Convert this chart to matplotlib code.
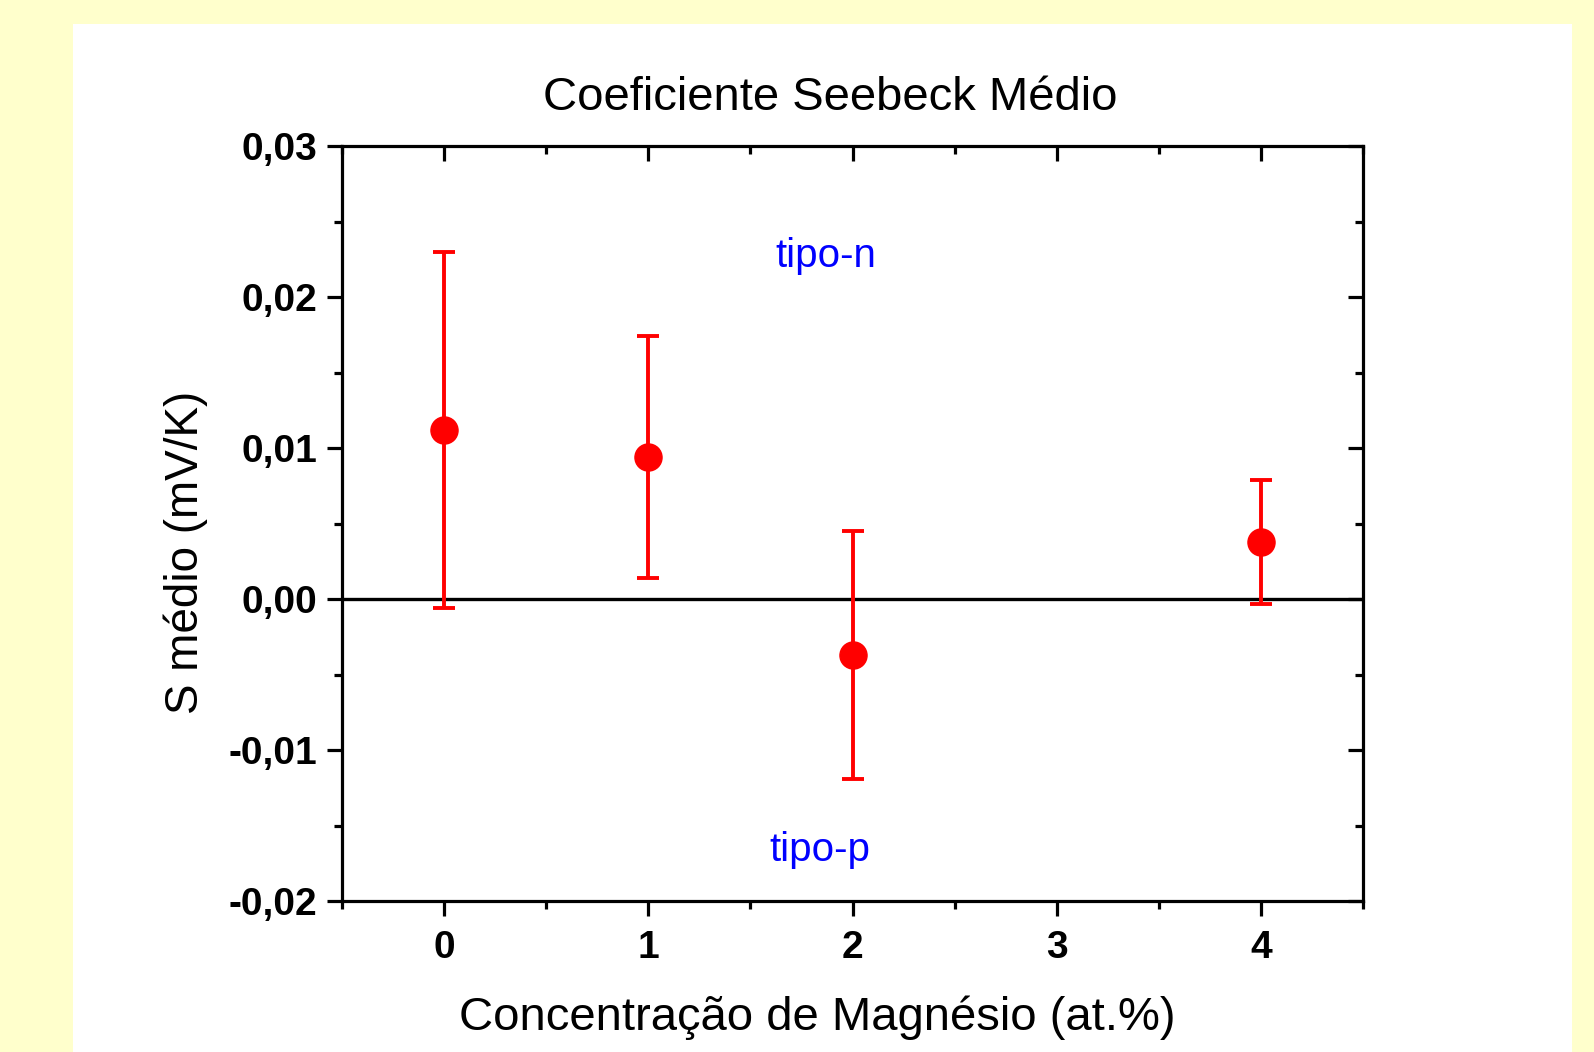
import numpy as np
import matplotlib
matplotlib.use('Agg')
import matplotlib.pyplot as plt
from matplotlib.patches import Rectangle
from matplotlib.ticker import MultipleLocator, FuncFormatter

# dados
mg_conc = [0, 1, 2, 4]
s_medio = [0.0112, 0.0094, -0.0037, 0.0038]
s_erro = [0.0118, 0.0080, 0.0082, 0.0041]

plt.rcParams['font.family'] = ['Liberation Sans', 'DejaVu Sans']

fig = plt.figure(figsize=(15.94, 10.52), dpi=100)
fig.patch.set_facecolor('#FFFFCC')
# painel branco
fig.patches.append(Rectangle((73 / 1594, 0), (1572 - 73) / 1594, 1 - 24 / 1052,
                             transform=fig.transFigure, facecolor='white',
                             edgecolor='none', zorder=-10))

ax = fig.add_axes([342 / 1594, 1 - 901 / 1052, (1363 - 342) / 1594, (901 - 146) / 1052])
ax.set_facecolor('none')

ax.axhline(0, color='black', lw=2.4, zorder=1)
ax.errorbar(mg_conc, s_medio, yerr=s_erro, fmt='o', color='#FF0000',
            markersize=19.5, elinewidth=2.8, capsize=8, capthick=2.8, zorder=3)

ax.set_xlim(-0.5, 4.5)
ax.set_ylim(-0.02, 0.03)
ax.xaxis.set_major_locator(MultipleLocator(1))
ax.xaxis.set_minor_locator(MultipleLocator(0.5))
ax.yaxis.set_major_locator(MultipleLocator(0.01))
ax.yaxis.set_minor_locator(MultipleLocator(0.005))
ax.yaxis.set_major_formatter(FuncFormatter(lambda v, p: f'{v:.2f}'.replace('.', ',').replace('-0,00', '0,00')))
ax.xaxis.set_major_formatter(FuncFormatter(lambda v, p: f'{v:.0f}'))

for s in ax.spines.values():
    s.set_linewidth(2.3)

ax.tick_params(which='both', width=2.3, labelsize=28)
ax.tick_params(which='major', length=11)
ax.tick_params(which='minor', length=6)
ax.tick_params(axis='x', which='both', top=True, direction='out', pad=10)
ax.tick_params(axis='y', which='both', right=True, direction='out', pad=7)
for lab in ax.get_xticklabels() + ax.get_yticklabels():
    lab.set_fontweight('bold')

# ticks de cima e da direita para dentro
for t in ax.xaxis.get_major_ticks() + ax.xaxis.get_minor_ticks():
    t.tick2line.set_marker(3)
for t in ax.yaxis.get_major_ticks() + ax.yaxis.get_minor_ticks():
    t.tick2line.set_marker(0)

ax.text(0.478, 1.063, 'Coeficiente Seebeck Médio', transform=ax.transAxes,
        ha='center', va='center', fontsize=34)
ax.set_xlabel('Concentração de Magnésio (at.%)', fontsize=34, va='center')
ax.xaxis.set_label_coords(0.465, -0.154)
ax.set_ylabel('S médio (mV/K)', fontsize=33, va='center')
ax.yaxis.set_label_coords(-0.153, 0.462)

ax.text(1.87, 0.0227, 'tipo-n', color='#0000FF', fontsize=29, ha='center', va='center')
ax.text(1.84, -0.0166, 'tipo-p', color='#0000FF', fontsize=29, ha='center', va='center')

plt.savefig('out.png', dpi=100, facecolor=fig.get_facecolor())
